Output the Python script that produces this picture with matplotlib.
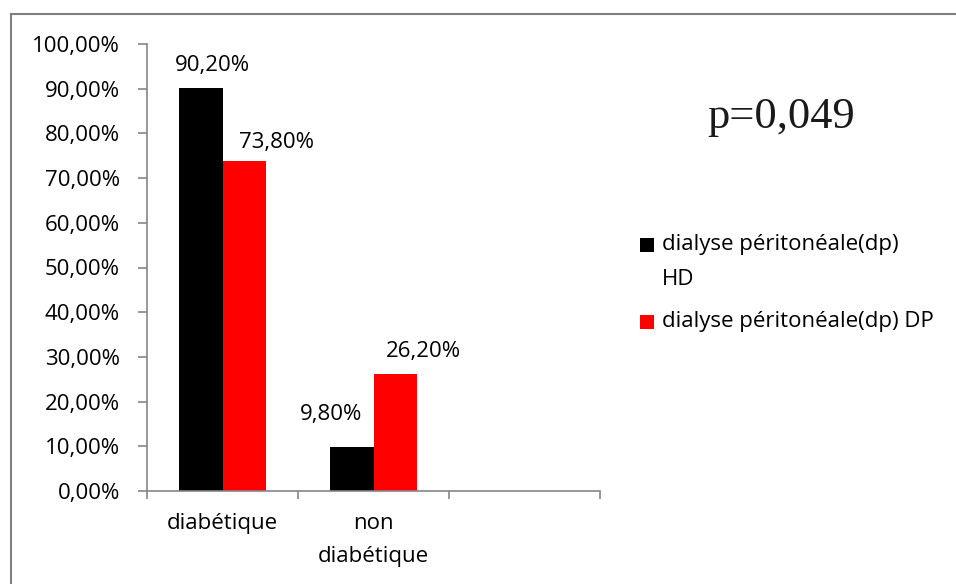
import numpy as np
import matplotlib.pyplot as plt
from matplotlib.patches import Rectangle

# Donnees
categories = ["diabétique", "non\ndiabétique", ""]
serie_hd = [90.2, 9.8]
serie_dp = [73.8, 26.2]
noms_series = ["dialyse péritonéale(dp)\nHD", "dialyse péritonéale(dp) DP"]
etiquettes_hd = ["90,20%", "9,80%"]
etiquettes_dp = ["73,80%", "26,20%"]
y_ticks = [0, 10, 20, 30, 40, 50, 60, 70, 80, 90, 100]
p_texte = "p=0,049"

couleurs = ["#000000", "#ff0000"]
gris = "#868686"
police = "Open Sans"
taille = 16

plt.rcParams["font.family"] = [police, "DejaVu Sans"]

W, H = 956, 584
fig = plt.figure(figsize=(W / 100, H / 100), dpi=100)

# cadre exterieur du graphique
fig.add_artist(Rectangle((11 / W, -0.1), 1.1, 1 - 14 / H + 0.1, transform=fig.transFigure,
                         fill=False, edgecolor="#7f7f7f", linewidth=1.5))

ax = fig.add_axes([147 / W, 1 - 491 / H, 453 / W, 447 / H])

largeur = 0.285
x = np.arange(len(serie_hd))
barres_hd = ax.bar(x - largeur / 2, serie_hd, width=largeur, color=couleurs[0], zorder=2)
barres_dp = ax.bar(x + largeur / 2, serie_dp, width=largeur, color=couleurs[1], zorder=2)

# etiquettes de donnees (deplacees a la main comme dans excel)
decalages_hd = [(11, 22), (-21, 33)]
decalages_dp = [(32, 19), (28, 22)]
for barres, etiquettes, decalages in [(barres_hd, etiquettes_hd, decalages_hd),
                                      (barres_dp, etiquettes_dp, decalages_dp)]:
    for b, txt, (dx, dy) in zip(barres, etiquettes, decalages):
        ax.annotate(txt, (b.get_x() + b.get_width() / 2, b.get_height()),
                    xytext=(dx * 0.72, dy * 0.72), textcoords="offset points",
                    ha="center", va="center", fontsize=taille)

ax.set_xlim(-0.5, len(categories) - 0.5)
ax.set_ylim(0, 100)
ax.set_yticks(y_ticks)
ax.set_yticklabels([f"{v},00%" for v in y_ticks], fontsize=taille)
ax.set_xticks(np.arange(len(categories)))
ax.set_xticklabels(categories, fontsize=taille, linespacing=1.75, va="top")
ax.set_xticks(np.arange(len(categories) + 1) - 0.5, minor=True)
ax.tick_params(axis="x", which="major", length=0, pad=16)
ax.tick_params(axis="x", which="minor", length=6, color=gris, width=1.2)
ax.tick_params(axis="y", length=6.5, color=gris, width=1.2, pad=13)

for s in ["top", "right"]:
    ax.spines[s].set_visible(False)
for s in ["left", "bottom"]:
    ax.spines[s].set_color(gris)
    ax.spines[s].set_linewidth(1.2)

# p-valeur
fig.text(781 / W, 1 - 117 / H, p_texte, family="Liberation Serif", fontsize=32,
         ha="center", va="center", color="#1a1a1a")

# legende
pos_legende = [245, 322]
for nom, c, yc in zip(noms_series, couleurs, pos_legende):
    fig.add_artist(Rectangle((640 / W, 1 - (yc + 7) / H), 14 / W, 14 / H,
                             transform=fig.transFigure, facecolor=c, edgecolor="none"))
    fig.text(662 / W, 1 - (yc - 11) / H, nom, fontsize=taille, ha="left", va="top",
             linespacing=1.85)

fig.savefig("out.png", dpi=100)
